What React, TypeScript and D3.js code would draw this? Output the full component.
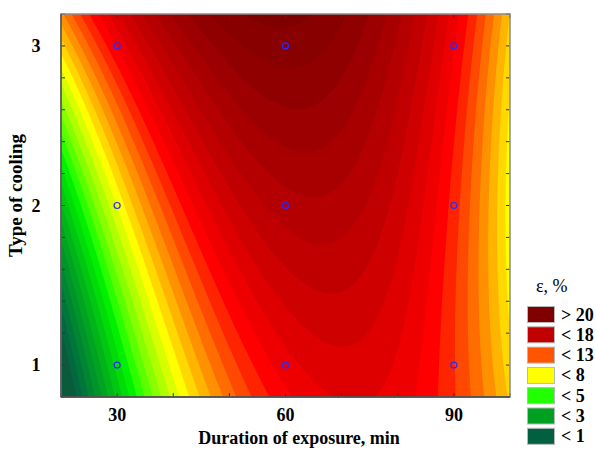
import React, { useMemo } from "react";
import * as d3 from "d3";

// Design points: duration of exposure (min) and type of cooling
const DURATIONS = [30, 60, 90];
const COOLING_TYPES = [1, 2, 3];
// Measured ε, % at each duration, per cooling type
const EPS_TYPE1 = [5.5, 15.3, 13.7];
const EPS_TYPE2 = [9.8, 17.9, 14.0];
const EPS_TYPE3 = [15.0, 20.5, 15.0];
const EPS_ROWS = [EPS_TYPE1, EPS_TYPE2, EPS_TYPE3];

// Contour step and band colours (lowest to highest)
const LEVEL_STEP = 0.65;
const BAND_COLORS = [
  "#0b5a3c", "#036840", "#00763a", "#008532", "#00942a", "#00a322", "#00b41a",
  "#00c812", "#00dc08", "#00f000", "#2aff00", "#5aff00", "#88ff00", "#b0ff00",
  "#d8ff00", "#ffff00", "#ffd800", "#ffb400", "#ff9000", "#ff6c00", "#ff4800",
  "#ff2400", "#ff0000", "#ee0000", "#de0000", "#ce0000", "#c00000", "#b40000",
  "#a80000", "#9c0000", "#900000", "#880000", "#800000",
];

const X_DOMAIN = [20, 100];
const Y_DOMAIN = [0.8, 3.2];
const X_TICK_LABELS = [30, 60, 90];
const Y_TICK_LABELS = [1, 2, 3];

const LEGEND_LABELS = ["> 20", "< 18", "< 13", "< 8", "< 5", "< 3", "< 1"];
const LEGEND_COLORS = ["#800000", "#c00000", "#ff5500", "#ffff00", "#22ff00", "#00a020", "#006040"];

const W = 596, H = 449;
const L = 61, R = 510, T = 14, B = 397;
const FONT = "'Liberation Serif', 'Times New Roman', serif";

function lagrange(nodes: number[], t: number, k: number) {
  let p = 1;
  for (let j = 0; j < nodes.length; j++) {
    if (j !== k) p *= (t - nodes[j]) / (nodes[k] - nodes[j]);
  }
  return p;
}

function surface(x: number, y: number) {
  let z = 0;
  for (let r = 0; r < COOLING_TYPES.length; r++) {
    const ly = lagrange(COOLING_TYPES, y, r);
    for (let c = 0; c < DURATIONS.length; c++) {
      z += EPS_ROWS[r][c] * lagrange(DURATIONS, x, c) * ly;
    }
  }
  return z;
}

export default function App() {
  const x = d3.scaleLinear().domain(X_DOMAIN).range([L, R]);
  const y = d3.scaleLinear().domain(Y_DOMAIN).range([B, T]);

  const paths = useMemo(() => {
    const nx = 224, ny = 192;
    const values = new Array(nx * ny);
    for (let j = 0; j < ny; j++) {
      const yv = Y_DOMAIN[1] - ((j + 0.5) * (Y_DOMAIN[1] - Y_DOMAIN[0])) / ny;
      for (let i = 0; i < nx; i++) {
        const xv = X_DOMAIN[0] + ((i + 0.5) * (X_DOMAIN[1] - X_DOMAIN[0])) / nx;
        values[j * nx + i] = surface(xv, yv);
      }
    }
    const thresholds = d3.range(1, BAND_COLORS.length).map((k) => k * LEVEL_STEP);
    const contours = d3.contours().size([nx, ny]).thresholds(thresholds)(values);
    const pw = R - L, ph = B - T;
    const proj = d3.geoTransform({
      point(px: number, py: number) {
        (this as any).stream.point(L + (px * pw) / nx, T + (py * ph) / ny);
      },
    });
    const gp = d3.geoPath(proj as any);
    return contours.map((c, idx) => ({ d: gp(c as any) || "", fill: BAND_COLORS[idx + 1] }));
  }, []);

  const xMinor = d3.range(20, 101, 10);
  const yMinor = d3.range(0.8, 3.2001, 0.2);
  const points: { xv: number; yv: number }[] = [];
  COOLING_TYPES.forEach((ct) => DURATIONS.forEach((du) => points.push({ xv: du, yv: ct })));

  return (
    <svg width={W} height={H} style={{ position: "absolute", left: 0, top: 0, background: "#fff" }}>
      <rect x={L} y={T} width={R - L} height={B - T} fill={BAND_COLORS[0]} />
      {paths.map((p, i) => (
        <path key={i} d={p.d} fill={p.fill} stroke="none" />
      ))}
      {points.map((p, i) => (
        <circle key={i} cx={x(p.xv)} cy={y(p.yv)} r={3} fill="none" stroke="#2a2aff" strokeWidth={1.2} />
      ))}
      {/* ticks */}
      {xMinor.map((v) => (
        <g key={"xt" + v} stroke="#333" strokeWidth={1}>
          <line x1={x(v)} x2={x(v)} y1={B} y2={B - 4} />
          <line x1={x(v)} x2={x(v)} y1={T} y2={T + 4} />
        </g>
      ))}
      {yMinor.map((v, i) => (
        <g key={"yt" + i} stroke="#333" strokeWidth={1}>
          <line x1={L} x2={L + 4} y1={y(v)} y2={y(v)} />
          <line x1={R} x2={R - 4} y1={y(v)} y2={y(v)} />
        </g>
      ))}
      {/* frame */}
      <rect x={L} y={T} width={R - L} height={B - T} fill="none" stroke="#8c8c8c" strokeWidth={1.5} />
      <line x1={L} x2={L} y1={T} y2={B} stroke="#555" strokeWidth={1.5} />
      <line x1={L} x2={R} y1={B} y2={B} stroke="#444" strokeWidth={1.5} />
      {/* tick labels */}
      {X_TICK_LABELS.map((v) => (
        <text key={"xl" + v} x={x(v)} y={421} textAnchor="middle" fontFamily={FONT} fontWeight="bold" fontSize={18}>
          {v}
        </text>
      ))}
      {Y_TICK_LABELS.map((v) => (
        <text key={"yl" + v} x={36} y={y(v) + 6} textAnchor="middle" fontFamily={FONT} fontWeight="bold" fontSize={18}>
          {v}
        </text>
      ))}
      <text x={299} y={444} textAnchor="middle" fontFamily={FONT} fontWeight="bold" fontSize={18}>
        Duration of exposure, min
      </text>
      <text
        transform={`translate(22, ${(T + B) / 2 - 10}) rotate(-90)`}
        textAnchor="middle"
        fontFamily={FONT}
        fontWeight="bold"
        fontSize={19}
      >
        Type of cooling
      </text>
      {/* legend */}
      <text x={536} y={292} fontFamily={FONT} fontSize={18}>
        ε, %
      </text>
      {LEGEND_LABELS.map((lab, i) => (
        <g key={lab}>
          <rect x={527.5} y={306.5 + i * 20.3} width={27} height={16} fill={LEGEND_COLORS[i]} stroke="#b8b8b8" strokeWidth={1} />
          <text x={561} y={320.5 + i * 20.3} fontFamily={FONT} fontWeight="bold" fontSize={18}>
            {lab}
          </text>
        </g>
      ))}
    </svg>
  );
}
